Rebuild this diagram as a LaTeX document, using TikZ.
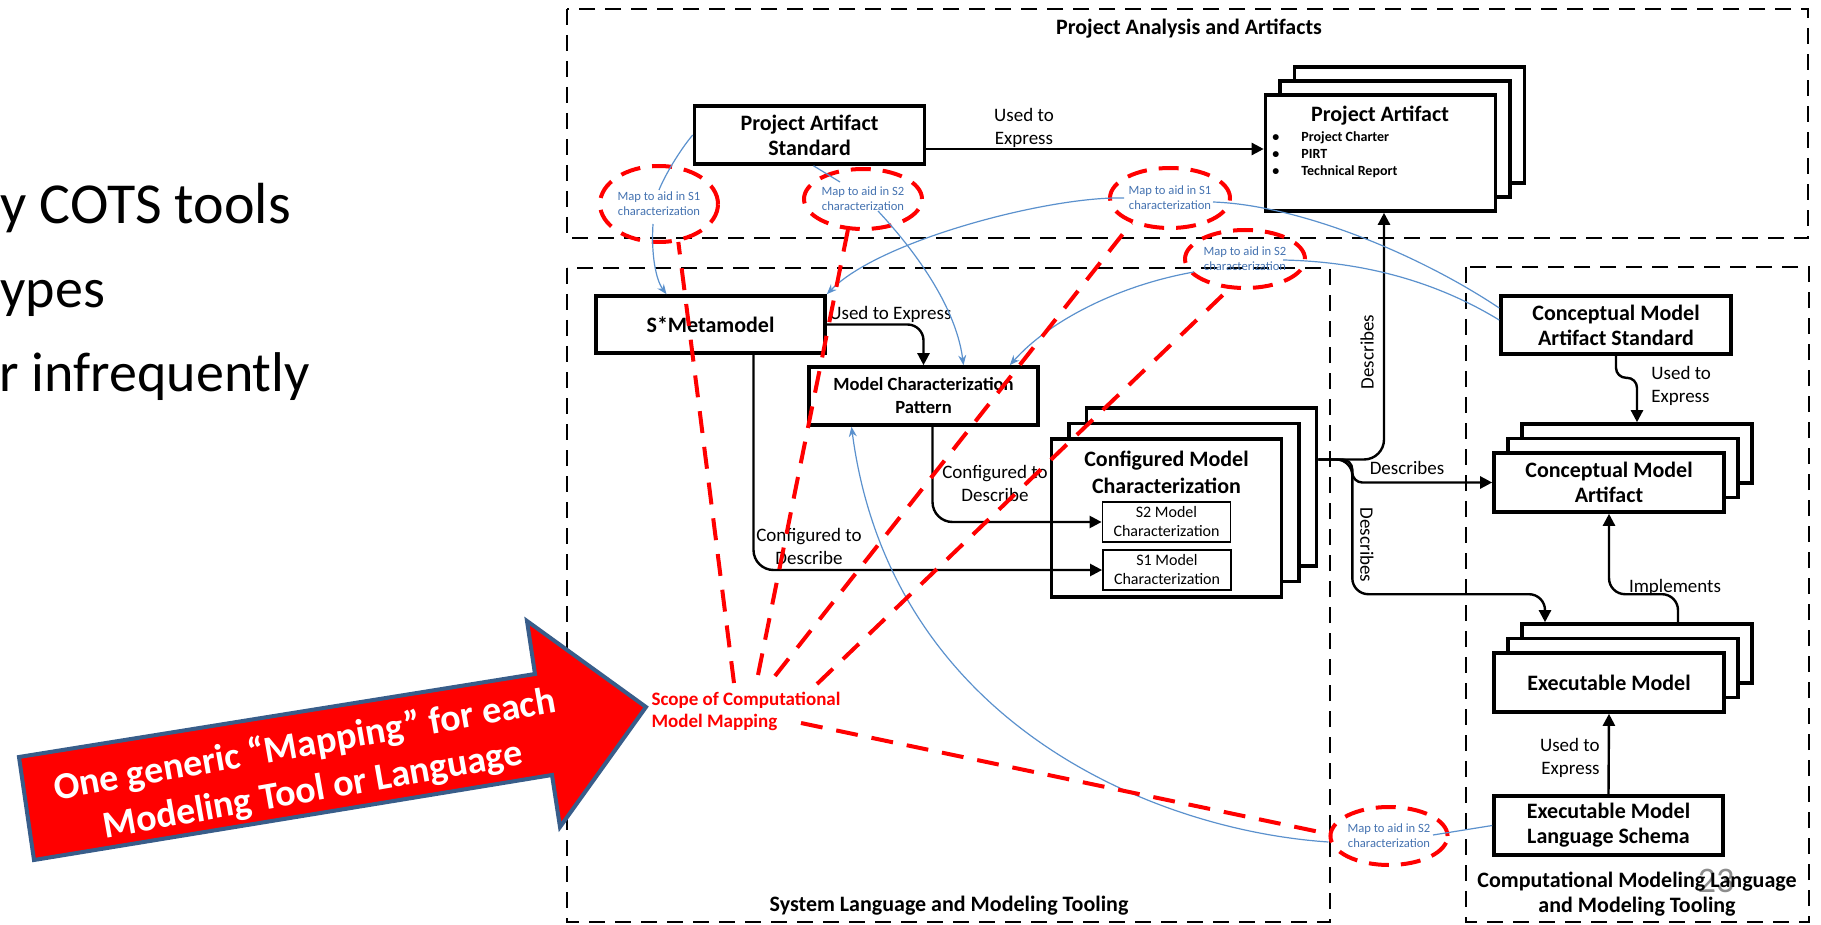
\documentclass[tikz,border=0pt]{standalone}
\usepackage{fontspec}
\setmainfont{Carlito}
\usepackage{tikz}
\usetikzlibrary{arrows.meta,positioning,calc,shapes.geometric}
\definecolor{mapBlue}{RGB}{91,145,205}
\definecolor{mapInk}{RGB}{68,114,176}
\definecolor{noteEdge}{RGB}{56,93,138}
\definecolor{pageGray}{RGB}{140,140,140}
\tikzset{
  %% tool boxes
  cmBox/.style={draw, line width=1.8pt, fill=white,
    minimum width=115pt, minimum height=29pt, inner sep=2pt,
    font=\fontsize{11}{12.5}\selectfont\bfseries, align=center},
  cmCopy/.style={draw, line width=1.8pt, fill=white, minimum width=115pt, minimum height=29.5pt},
  cmSub/.style={draw, line width=0.9pt, fill=white, minimum width=64pt, minimum height=20pt,
    inner sep=1pt, font=\fontsize{8}{9.5}\selectfont, align=center},
  %% dashed frames and their titles
  cmFrame/.style={line width=1.2pt, dash pattern=on 8pt off 5pt},
  cmTitle/.style={font=\fontsize{11}{12.5}\selectfont\bfseries, align=center, inner sep=0pt},
  %% relations
  cmRel/.style={line width=1.2pt, -{Triangle[length=6pt,width=6pt]}, rounded corners=8pt},
  cmLbl/.style={font=\fontsize{9.5}{11.5}\selectfont, align=center, inner sep=0pt},
  %% mapping callouts
  cmMap/.style={ellipse, draw=red, line width=2pt, dash pattern=on 10pt off 6pt,
    minimum width=59pt, minimum height=30pt, inner sep=0pt,
    font=\fontsize{6.3}{7.5}\selectfont, text=mapInk, align=center},
  cmLink/.style={draw=mapBlue, line width=0.6pt},
  cmLinkArr/.style={cmLink, -{Stealth[length=5pt,width=4pt]}},
  cmScope/.style={draw=red, line width=2pt, dash pattern=on 11pt off 7pt},
  cmSlide/.style={font=\fontsize{28}{34}\selectfont, anchor=base west, inner sep=0pt},
}

\begin{document}
\begin{tikzpicture}[x=0.5pt, y=-0.5pt]
\useasboundingbox (0,0) rectangle (1821,925);

%% slide text cut at the left edge
\node[cmSlide, font=\fontsize{29}{34}\selectfont] (txtA) at (0,224) {y COTS tools};
\node[cmSlide] (txtB) at (0,307) {ypes};
\node[cmSlide] (txtC) at (-1,392) {r infrequently};

%% frames
\draw[cmFrame] (567,9) rectangle (1808,238);
\draw[cmFrame] (567,268) rectangle (1330,922);
\draw[cmFrame] (1466,267) rectangle (1809,922);
\node[cmTitle] (ttlPrj) at (1189,29) {Project Analysis and Artifacts};
\node[cmTitle] (ttlSys) at (949,906) {System Language and Modeling Tooling};
\node[text=pageGray, font=\fontsize{18}{20}\selectfont] (pageNo) at (1716,881) {23};
\node[cmTitle] (ttlCml) at (1637,894) {Computational Modeling Language\\and Modeling Tooling};

%% project side
\node[cmBox] (pas) at (809.5,135) {Project Artifact\\Standard};
\node[cmCopy, minimum height=58pt] (paB) at (1409.5,125) {};
\node[cmCopy, minimum height=58pt] (paM) at (1395,139) {};
\node[cmBox, minimum height=58pt] (pa) at (1380.5,153) {};
\node[font=\fontsize{11}{13}\selectfont\bfseries] (paHead) at (1380,116) {Project Artifact};
\node[font=\fontsize{7}{8.5}\selectfont\bfseries, align=left, anchor=north west, inner sep=0pt] (paList) at (1272,131)
  {\makebox[14.5pt][l]{\textbullet}Project Charter\\\makebox[14.5pt][l]{\textbullet}PIRT\\\makebox[14.5pt][l]{\textbullet}Technical Report};

%% system language side
\node[cmBox, minimum width=114.5pt, minimum height=28.5pt] (smeta) at (710.5,324.5) {S*Metamodel};
\node[cmBox, minimum width=114.5pt, font=\fontsize{9.3}{11.5}\selectfont\bfseries] (mcp) at (923.5,396) {Model Characterization\\Pattern};
\node[cmCopy, minimum height=79pt] (cmcB) at (1201.5,487) {};
\node[cmCopy, minimum height=79pt] (cmcM) at (1184,502.5) {};
\node[cmBox, minimum height=79pt] (cmc) at (1166.5,518) {};
\node[cmTitle, font=\fontsize{11}{13.5}\selectfont\bfseries] (cmcHead) at (1166.5,472.5) {Configured Model\\Characterization};
\node[cmSub] (s2m) at (1166.5,522) {S2 Model\\Characterization};
\node[cmSub] (s1m) at (1167,570) {S1 Model\\Characterization};

%% computational modeling side
\node[cmBox] (cmas) at (1616,325) {Conceptual Model\\Artifact Standard};
\node[cmCopy] (cmaB) at (1637,453.5) {};
\node[cmCopy] (cmaM) at (1623,468) {};
\node[cmBox, minimum height=29.5pt] (cma) at (1609,482.5) {Conceptual Model\\Artifact};
\node[cmCopy] (emB) at (1637,653.5) {};
\node[cmCopy] (emM) at (1623,668) {};
\node[cmBox, minimum height=29.5pt] (em) at (1609,682.5) {Executable Model};
\node[cmBox, minimum width=114.5pt, minimum height=29.5pt] (emls) at (1608.5,825.5) {Executable Model\\Language Schema};

%% relations
\draw[cmRel] ([yshift=-7pt]pas.east) -- ([yshift=-7pt]pas.east -| pa.west);
\draw[cmRel] (smeta.east) -| (mcp.north);
\draw[cmRel, rounded corners=10pt] ([xshift=21.5pt]smeta.south) |- (s1m.west);
\draw[cmRel, rounded corners=10pt] ([xshift=4.5pt]mcp.south) |- (s2m.west);
\coordinate (cmcOut) at ([yshift=13.75pt]cmcB.east);
\draw[cmRel, rounded corners=10pt] (cmcOut) -| ([xshift=1.75pt]pa.south);
\draw[cmRel, rounded corners=5pt] (cmcOut) -- ++(34,0) |- (cma.west);
\draw[cmRel] (cmcOut) -- ++(34,0) |- ($(emB.north)+(-92,-28)$) -- ([xshift=-46pt]emB.north);
\draw[cmRel, rounded corners=5pt] (cmas.south) -- ++(0,22) -| (cmaB.north);
\draw[cmRel] ([xshift=20.5pt]emB.north) -- ++(0,-28) -| (cma.south);
\draw[cmRel] (emls.north) -- (em.south);

\node[cmLbl] (lUseA) at (1024,127.5) {Used to\\Express};
\node[cmLbl, anchor=west] (lUseB) at (829,314) {Used to Express};
\node[cmLbl] (lCfgA) at (809,546) {Configured to\\Describe};
\node[cmLbl] (lCfgB) at (995,483) {Configured to\\Describe};
\node[cmLbl, rotate=90] (lDesA) at (1367,352) {Describes};
\node[cmLbl] (lDesB) at (1407,468) {Describes};
\node[cmLbl, rotate=-90] (lDesC) at (1367,545) {Describes};
\node[cmLbl, align=left, anchor=west] (lUseC) at (1651,386) {Used to\\Express};
\node[cmLbl] (lImpl) at (1675,587) {Implements};
\node[cmLbl, align=right, anchor=east] (lUseD) at (1600,758) {Used to\\Express};

%% mapping callouts
\node[cmMap, minimum height=38pt] (mapA) at (659,204) {Map to aid in S1\\characterization};
\node[cmMap] (mapB) at (863,199) {Map to aid in S2\\characterization};
\node[cmMap, minimum width=60pt] (mapC) at (1170,198) {Map to aid in S1\\characterization};
\node[cmMap, minimum width=60pt, minimum height=29pt] (mapD) at (1245,259) {Map to aid in S2\\characterization};
\node[cmMap, minimum width=58pt, minimum height=29pt] (mapE) at (1389,836) {Map to aid in S2\\characterization};

\draw[cmLink] (pas.west) .. controls (680,150) and (665,175) .. ([yshift=7pt]mapA.center);
\draw[cmLinkArr] ([xshift=-3pt,yshift=-10pt]mapA.center) .. controls (651,255) and (656,280) .. ([xshift=-22pt]smeta.north);
\draw[cmLink] ([xshift=2pt]pas.south) -- ([xshift=-11.5pt,yshift=8.5pt]mapB.center);
\draw[cmLinkArr] ([xshift=7.5pt,yshift=-6pt]mapB.center) .. controls (905,240) and (955,300) .. ([xshift=20pt]mcp.north);
\draw[cmLinkArr] ([xshift=8pt]mapC.west) .. controls (1050,196) and (880,240) .. (smeta.north east);
\draw[cmLink] ([xshift=21.5pt,yshift=-2pt]mapC.center) .. controls (1300,205) and (1420,255) .. ([yshift=8.5pt]cmas.west);
\draw[cmLink] ([xshift=19pt,yshift=-0.5pt]mapD.center) .. controls (1380,262) and (1450,290) .. ([yshift=2.5pt]cmas.west);
\draw[cmLinkArr] ([xshift=-25.5pt,yshift=-6.5pt]mapD.center) .. controls (1120,285) and (1050,320) .. ([xshift=-15pt]mcp.north east);
\draw[cmLink] (emls.west) -- ([xshift=22pt,yshift=0.5pt]mapE.center);
\draw[cmLinkArr] ([yshift=-3pt]mapE.west) .. controls (1150,830) and (890,720) .. ([xshift=-36pt]mcp.south);

%% scope of the mapping
\node[font=\fontsize{9.5}{11}\selectfont\bfseries, text=red, align=left, inner sep=0pt] (scope) at (746,711) {Scope of Computational\\Model Mapping};
\coordinate (scA) at (734,683);
\coordinate (scB) at (758,675);
\coordinate (scC) at (775,676);
\coordinate (scD) at (817,684);
\coordinate (scE) at (801,723);
\foreach \s/\m in {scA/mapA.-63, scB/mapB.-116, scC/mapC.-147, scD/mapD.-118, scE/mapE.178}
  \draw[cmScope] (\s) -- (\m);

%% big arrow
\draw[line width=2pt, draw=noteEdge, fill=red, line join=miter]
  (19,757) -- (535,674) -- (527,621) -- (646,707) -- (560,827) -- (552,775) -- (34,860) -- cycle;
\node[rotate=10, text=white, font=\fontsize{19}{23}\selectfont\bfseries, align=center] (mapNote) at (309,768)
  {One generic “Mapping” for each\\Modeling Tool or Language};
\end{tikzpicture}
\end{document}
